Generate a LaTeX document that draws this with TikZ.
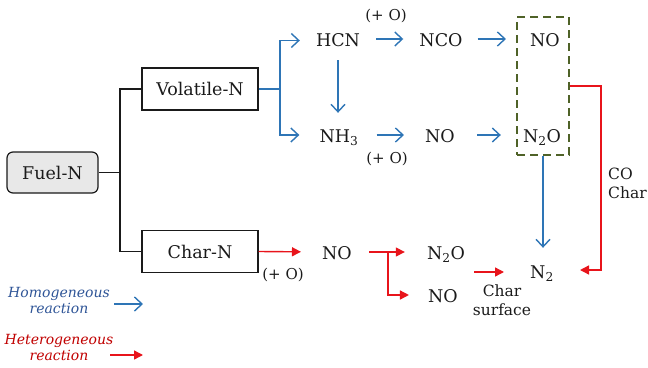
\documentclass[tikz,border=0pt]{standalone}
\usepackage{fontspec}
\setmainfont{DejaVu Serif}
\usetikzlibrary{positioning,arrows.meta,calc}
\definecolor{homcol}{HTML}{2E75B6}
\definecolor{hetcol}{HTML}{E8141B}
\definecolor{boxcol}{HTML}{4F6228}
\definecolor{inkcol}{HTML}{1A1A1A}
\definecolor{homtxt}{HTML}{2F5597}
\definecolor{hettxt}{HTML}{C00000}
\newcommand{\bigf}{\fontsize{17.5}{20}\selectfont}
\newcommand{\smallf}{\fontsize{15}{16}\selectfont}
\newcommand{\midf}{\fontsize{15.5}{19}\selectfont}

\begin{document}
\begin{tikzpicture}[x=1pt,y=-1pt,
    every node/.style={font=\bigf, text=inkcol, inner sep=0pt},
    species/.style={anchor=base, text height=14pt, text depth=0pt},
    nbox/.style={draw=inkcol, line width=1.2pt, minimum width=116pt, minimum height=42pt},
    tree/.style={draw=inkcol, line width=1.2pt},
    homo/.style={draw=homcol, line width=1.4pt, -{Straight Barb[length=7.5pt,width=14pt]}},
    hetero/.style={draw=hetcol, line width=1.4pt, -{Triangle[length=9pt,width=9pt]}},
    note/.style={font=\smallf},
    lbl/.style={font=\midf}]
  \useasboundingbox (0,0) rectangle (648,367);
  % sources
  \node[nbox, rounded corners=6pt, fill=gray!18, minimum width=91pt, minimum height=41pt] (fuel) at (52.5,172.5) {Fuel-N};
  \node[nbox] (vol) at (200,89) {Volatile-N};
  \node[nbox] (char) at (200,251.5) {Char-N};
  \coordinate (tfork) at (120,172.5);
  \draw[tree] (fuel) -- (tfork);
  \draw[tree] (vol.west) -| (tfork) |- (char.west);
  % volatile route
  \node[species] (hcn) at (338,46) {HCN};
  \node[species] (nco) at (441,46) {NCO};
  \node[species] (notop) at (545,46) {NO};
  \node[species] (nh3) at (339,142) {NH\textsubscript{3}};
  \node[species] (nomid) at (440,142) {NO};
  \node[species] (ntwoo) at (542,142) {N\textsubscript{2}O};
  \node[note] (plusa) at (386,16) {(+ O)};
  \node[note] (plusb) at (387,159) {(+ O)};
  \coordinate (vfork) at (280,89);
  \draw[homo, shorten >=16pt] (vol.east) -- (vfork) |- ([yshift=-1.5pt]hcn.west);
  \draw[homo, shorten >=20pt] (vfork) |- (nh3.west);
  \draw[homo, shorten <=16pt, shorten >=16pt] (hcn.east) -- (nco.west);
  \draw[homo, shorten <=15pt, shorten >=24pt] (nco.east) -- (notop.west);
  \draw[homo, shorten <=14pt, shorten >=15pt] (hcn.south) -- (hcn.south |- nh3.north);
  \draw[homo, shorten <=18pt, shorten >=21pt] (nh3.east) -- (nomid.west);
  \draw[homo, shorten <=22pt, shorten >=22pt] (nomid.east) -- (ntwoo.west);
  \node[draw=boxcol, dashed, dash pattern=on 8pt off 5pt, line width=1.4pt,
        minimum width=52pt, minimum height=138pt] (nobox) at (543,86) {};
  % char route
  \node[species] (nochar) at (337,259) {NO};
  \node[species] (ntwooc) at (446,259) {N\textsubscript{2}O};
  \node[species] (nolow) at (443,302) {NO};
  \node[species] (ntwo) at (542,278) {N\textsubscript{2}};
  \node[note] (plusc) at (283,275) {(+ O)};
  \draw[hetero, shorten >=21pt] (char.east) -- (nochar.west);
  \coordinate (hfork) at (388,252);
  \draw[hetero, shorten <=17pt, shorten >=22pt] (nochar.east) -- (hfork) |- (ntwooc.west);
  \draw[hetero, shorten >=19pt] (hfork) |- (nolow.west);
  \coordinate (csurf) at (474,272);
  \draw[hetero, shorten >=26pt] (csurf) -- (csurf -| ntwo.west);
  \node[lbl, align=center] (surf) at (502,300) {Char\\surface};
  \draw[homo, shorten >=16pt] (nobox.south) -- (nobox.south |- ntwo.north);
  \coordinate (cbend) at (601,270);
  \draw[hetero, shorten >=26pt] (nobox.east) -| (cbend) -- (cbend -| ntwo.east);
  \node[lbl, align=left, anchor=west] (coc) at (608,183) {CO\\Char};
  % legend
  \node[font=\fontsize{14}{16}\selectfont\itshape, text=homtxt, align=center] (homlab) at (59,300) {Homogeneous\\reaction};
  \node[font=\fontsize{14}{16}\selectfont\itshape, text=hettxt, align=center] (hetlab) at (59,347.5) {Heterogeneous\\reaction};
  \coordinate (homa) at (114,304);
  \coordinate (heta) at (110,355);
  \draw[homo] (homa) -- ++(29,0);
  \draw[hetero] (heta) -- ++(33,0);
\end{tikzpicture}
\end{document}
